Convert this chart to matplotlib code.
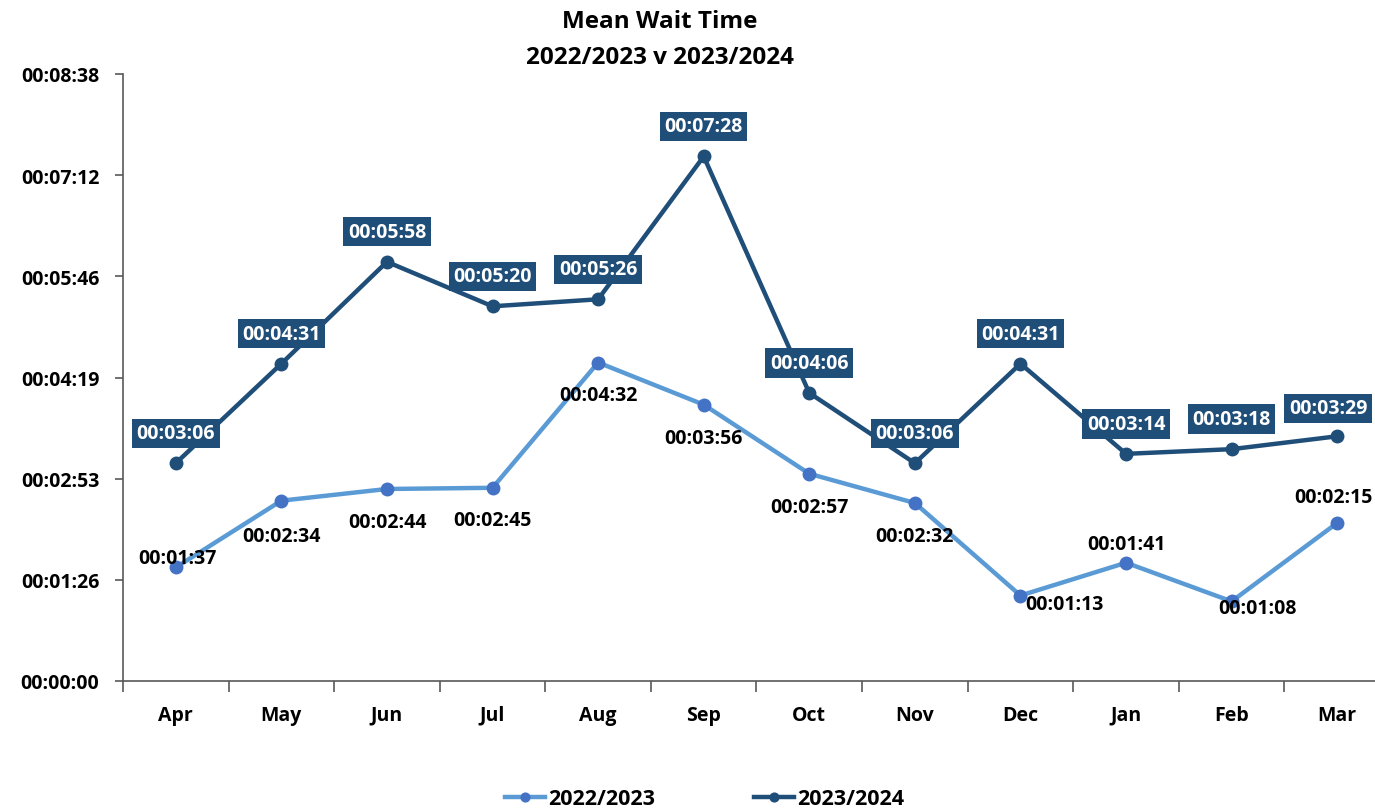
""" Mean wait time, 2022/2023 vs 2023/2024, monthly line chart

"""
import numpy as np
import matplotlib
matplotlib.use("Agg")
import matplotlib.pyplot as plt
from matplotlib.ticker import FuncFormatter, FixedLocator


months = ["Apr", "May", "Jun", "Jul", "Aug", "Sep", "Oct", "Nov", "Dec", "Jan", "Feb", "Mar"]

# mean wait in seconds
wait_2223 = [97, 154, 164, 165, 272, 236, 177, 152, 73, 101, 68, 135]
wait_2324 = [186, 271, 358, 320, 326, 448, 246, 186, 271, 194, 198, 209]

series_names = ["2022/2023", "2023/2024"]


def hms(sec, pos=None):
    s = int(round(sec))
    return "%02d:%02d:%02d" % (s // 3600, (s % 3600) // 60, s % 60)


plt.rcParams["font.family"] = ["Open Sans", "DejaVu Sans"]
plt.rcParams["font.weight"] = "bold"

fig = plt.figure(figsize=(13.75, 8.12), dpi=100)
ax = fig.add_axes([123 / 1375, 130 / 812, 1267 / 1375, 607 / 812])

light = "#5B9BD5"
light_mk = "#4472C4"
dark = "#1F4E79"
fs = 14

x = np.arange(len(months))
ax.plot(x, wait_2223, color=light, lw=3.2, marker="o", ms=9,
        mfc=light_mk, mec=light_mk, label=series_names[0], zorder=3)
ax.plot(x, wait_2324, color=dark, lw=3.2, marker="o", ms=9,
        mfc=dark, mec=dark, label=series_names[1], zorder=3)

# label offsets in pixels (placement as in the original)
off_2223 = [(2, 9), (0, -35), (0, -33), (0, -32), (0, -32), (0, -33),
            (0, -33), (0, -33), (44, -8), (0, 19), (26, -7), (-4, 26)]
off_2324 = [(0, 30)] * 11 + [(-9, 28)]
for i, v in enumerate(wait_2223):
    ax.annotate(hms(v), (x[i], v), xytext=off_2223[i], textcoords="offset pixels",
                ha="center", va="center", fontsize=fs, fontweight="bold",
                color="black", zorder=4)

for i, v in enumerate(wait_2324):
    ax.annotate(hms(v), (x[i], v), xytext=off_2324[i], textcoords="offset pixels",
                ha="center", va="center", fontsize=fs, fontweight="bold",
                color="white", zorder=5,
                bbox=dict(boxstyle="square,pad=0.24", fc=dark, ec="none"))

ax.set_xlim(-0.5, len(months) - 0.5)
ax.set_ylim(0, 518.4)
ax.yaxis.set_major_locator(FixedLocator(np.arange(0, 518.5, 86.4)))
ax.yaxis.set_major_formatter(FuncFormatter(hms))

ax.set_xticks(x)
ax.set_xticklabels(months)
ax.set_xticks(np.arange(-0.5, len(months), 1), minor=True)
ax.tick_params(axis="x", which="major", length=0, pad=17, labelsize=fs)
ax.tick_params(axis="x", which="minor", length=8, width=1.2, color="#595959")
ax.tick_params(axis="y", length=6, width=1.2, color="#595959", labelsize=fs, pad=11)
for lab in ax.get_xticklabels() + ax.get_yticklabels():
    lab.set_fontweight("bold")

for sp in ["top", "right"]:
    ax.spines[sp].set_visible(False)
for sp in ["left", "bottom"]:
    ax.spines[sp].set_color("#595959")
    ax.spines[sp].set_linewidth(1.2)

fig.text(660 / 1375, 1 - 22 / 812, "Mean Wait Time", ha="center", va="center",
         fontsize=17.5, fontweight="bold")
fig.text(660 / 1375, 1 - 58 / 812, "2022/2023 v 2023/2024", ha="center", va="center",
         fontsize=17.5, fontweight="bold")

leg = fig.legend(loc="center", bbox_to_anchor=(705 / 1375, 1 - 800 / 812), ncol=2,
                 frameon=False, fontsize=15.5, handlelength=1.85, handletextpad=0.15,
                 columnspacing=4.6, markerscale=0.7)
for t in leg.get_texts():
    t.set_fontweight("bold")

fig.savefig("out.png", dpi=100)
